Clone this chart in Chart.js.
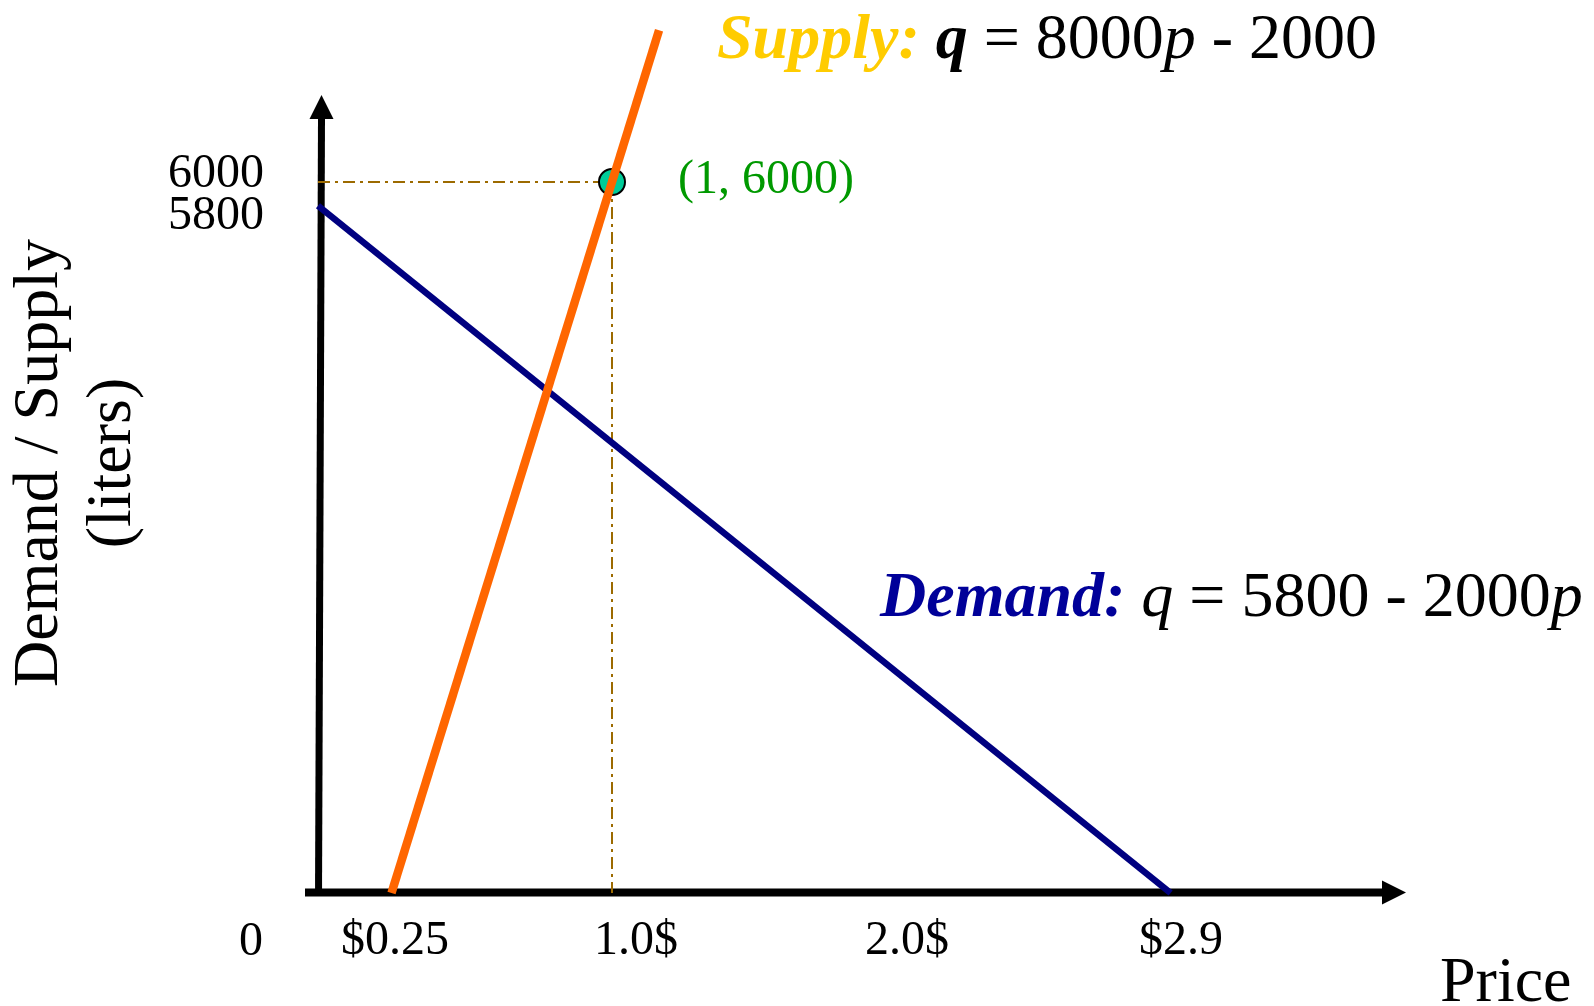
<!DOCTYPE html>
<html>
<head>
<meta charset="utf-8">
<script src="https://cdn.jsdelivr.net/npm/chart.js@4.4.0/dist/chart.umd.min.js"></script>
<style>
  html, body { margin: 0; padding: 0; background: #ffffff; overflow: hidden; }
  canvas { display: block; }
</style>
</head>
<body>
<canvas id="chart" width="1594" height="1006"></canvas>
<script>
// Price p in dollars, quantity q in liters
const demandPrices = [0, 2.9];
const demandQuantities = [5800, 0];          // q = 5800 - 2000p
const supplyPrices = [0.25, 1.16];
const supplyQuantities = [0, 7280];          // q = 8000p - 2000
const markedPrice = 1;
const markedQuantity = 6000;
const priceTickValues = [0.25, 1.0, 2.0, 2.9];
const priceTickLabels = ['$0.25', '1.0$', '2.0$', '$2.9'];
const quantityTickValues = [6000, 5800];
const quantityTickLabels = ['6000', '5800'];

const SERIF = '"Liberation Serif", "Times New Roman", serif';

function toPoints(xs, ys) {
  return xs.map((x, i) => ({ x: x, y: ys[i] }));
}

// Draws a run of differently styled text pieces along one baseline
function drawRuns(ctx, x, y, runs) {
  ctx.textAlign = 'left';
  ctx.textBaseline = 'alphabetic';
  let cx = x;
  runs.forEach(r => {
    ctx.font = r.font;
    ctx.fillStyle = r.color;
    ctx.fillText(r.text, cx, y);
    cx += ctx.measureText(r.text).width;
  });
}

const axesPlugin = {
  id: 'arrowAxes',
  beforeDatasetsDraw(chart) {
    const ctx = chart.ctx;
    const xs = chart.scales.x, ys = chart.scales.y;
    const ox = xs.getPixelForValue(0);
    const oy = ys.getPixelForValue(0);
    ctx.save();
    ctx.strokeStyle = '#000';
    ctx.fillStyle = '#000';
    ctx.lineCap = 'butt';
    // vertical axis
    ctx.lineWidth = 7;
    ctx.beginPath();
    ctx.moveTo(ox + 0.5, oy + 3);
    ctx.lineTo(ox + 3.5, oy - 775);
    ctx.stroke();
    ctx.beginPath();
    ctx.moveTo(ox + 3.5, oy - 798);
    ctx.lineTo(ox - 8.5, oy - 774);
    ctx.lineTo(ox + 15.5, oy - 774);
    ctx.closePath();
    ctx.fill();
    // horizontal axis
    ctx.lineWidth = 8;
    ctx.beginPath();
    ctx.moveTo(ox - 13, oy - 0.5);
    ctx.lineTo(ox + 1065, oy - 0.5);
    ctx.stroke();
    ctx.beginPath();
    ctx.moveTo(ox + 1088, oy - 0.5);
    ctx.lineTo(ox + 1064, oy - 12.5);
    ctx.lineTo(ox + 1064, oy + 11.5);
    ctx.closePath();
    ctx.fill();
    ctx.restore();
  },
  afterDraw(chart) {
    const ctx = chart.ctx;
    const xs = chart.scales.x, ys = chart.scales.y;
    const ox = xs.getPixelForValue(0);
    const oy = ys.getPixelForValue(0);
    ctx.save();

    // price tick labels, nudged sideways where the label sits off its value
    const priceDx = [3.5, 24, 1, 10.5];
    ctx.font = '48px ' + SERIF;
    ctx.fillStyle = '#000';
    ctx.textAlign = 'center';
    ctx.textBaseline = 'alphabetic';
    priceTickValues.forEach((v, i) => {
      ctx.fillText(priceTickLabels[i], xs.getPixelForValue(v) + priceDx[i], oy + 61);
    });
    ctx.fillText('0', ox - 67, oy + 62);

    // quantity tick labels, spread apart so they do not collide
    const qtyDy = [5, 23];
    ctx.textAlign = 'right';
    quantityTickValues.forEach((v, i) => {
      ctx.fillText(quantityTickLabels[i], ox - 54, ys.getPixelForValue(v) + qtyDy[i]);
    });

    // axis titles
    ctx.font = '64px ' + SERIF;
    ctx.textAlign = 'left';
    ctx.fillText('Price', 1440, 1001);
    ctx.save();
    ctx.translate(57, 463);
    ctx.rotate(-Math.PI / 2);
    ctx.textAlign = 'center';
    ctx.fillText('Demand / Supply', 0, 0);
    ctx.fillText('(liters)', 0, 73);
    ctx.restore();

    // marked point label
    ctx.font = '48px ' + SERIF;
    ctx.fillStyle = '#009900';
    ctx.textAlign = 'left';
    ctx.fillText('(' + markedPrice + ', ' + markedQuantity + ')',
      xs.getPixelForValue(markedPrice) + 66, ys.getPixelForValue(markedQuantity) + 11);

    // curve equations
    drawRuns(ctx, 717, 58, [
      { text: 'Supply:', font: 'italic bold 64px ' + SERIF, color: '#FFCC00' },
      { text: ' ', font: '64px ' + SERIF, color: '#000' },
      { text: 'q', font: 'italic bold 64px ' + SERIF, color: '#000' },
      { text: ' = 8000', font: '64px ' + SERIF, color: '#000' },
      { text: 'p', font: 'italic 64px ' + SERIF, color: '#000' },
      { text: ' - 2000', font: '64px ' + SERIF, color: '#000' }
    ]);
    drawRuns(ctx, 880, 616, [
      { text: 'Demand:', font: 'italic bold 64px ' + SERIF, color: '#000099' },
      { text: ' ', font: '64px ' + SERIF, color: '#000' },
      { text: 'q', font: 'italic 64px ' + SERIF, color: '#000' },
      { text: ' = 5800 - 2000', font: '64px ' + SERIF, color: '#000' },
      { text: 'p', font: 'italic 64px ' + SERIF, color: '#000' }
    ]);
    ctx.restore();
  }
};

const guideStyle = {
  showLine: true,
  borderColor: '#9c6a00',
  borderWidth: 2,
  borderDash: [12, 5, 3, 5],
  pointRadius: 0,
  fill: false,
  clip: false
};

new Chart(document.getElementById('chart'), {
  type: 'scatter',
  data: {
    datasets: [
      {
        label: 'Supply',
        data: toPoints(supplyPrices, supplyQuantities),
        showLine: true,
        borderColor: '#FF6600',
        borderWidth: 8.5,
        borderCapStyle: 'butt',
        pointRadius: 0,
        clip: false
      },
      {
        label: 'Demand',
        data: toPoints(demandPrices, demandQuantities),
        showLine: true,
        borderColor: '#000080',
        borderWidth: 6.5,
        borderCapStyle: 'butt',
        pointRadius: 0,
        clip: false
      },
      {
        label: 'Marked point',
        data: [{ x: markedPrice, y: markedQuantity }],
        pointRadius: 13,
        pointBackgroundColor: '#00CC99',
        pointBorderColor: '#000',
        pointBorderWidth: 2,
        clip: false
      },
      Object.assign({ label: 'Quantity guide',
        data: [{ x: 0, y: markedQuantity }, { x: markedPrice, y: markedQuantity }] }, guideStyle),
      Object.assign({ label: 'Price guide',
        data: [{ x: markedPrice, y: markedQuantity }, { x: markedPrice, y: 0 }] }, guideStyle)
    ]
  },
  options: {
    responsive: false,
    animation: false,
    events: [],
    layout: { autoPadding: false, padding: { left: 318, right: 100, top: 4.25, bottom: 113 } },
    scales: {
      x: { type: 'linear', min: 0, max: 4, display: false },
      y: { type: 'linear', min: 0, max: 7500, display: false }
    },
    plugins: {
      legend: { display: false },
      tooltip: { enabled: false }
    }
  },
  plugins: [axesPlugin]
});
</script>
</body>
</html>
